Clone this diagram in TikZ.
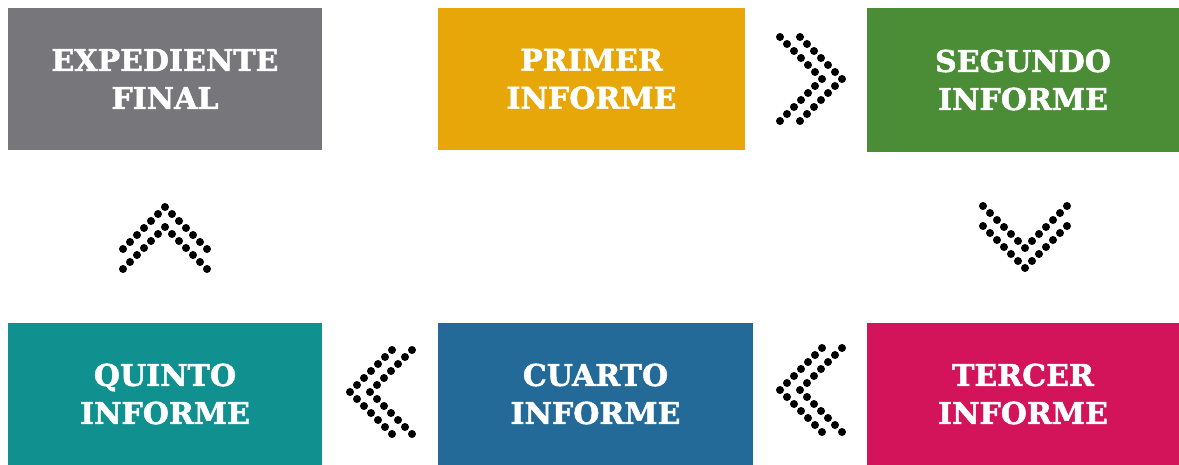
\documentclass[tikz,border=0pt]{standalone}
\usepackage{fontspec}
\setmainfont[BoldFeatures={FakeBold=1.6}]{DejaVu Serif}

\definecolor{expgray}{HTML}{77767B}
\definecolor{primyellow}{HTML}{E8A709}
\definecolor{seggreen}{HTML}{4B8D36}
\definecolor{tercmagenta}{HTML}{D3145A}
\definecolor{cuarblue}{HTML}{236A99}
\definecolor{quinteal}{HTML}{10918F}

\tikzset{
	stagebox/.style={minimum height=142, inner sep=0pt, align=center,
		text=white, font=\fontsize{30}{38}\selectfont\bfseries},
}

% two rows of dots forming a chevron: apex (#1,#2), step along (#3,#4), step back (#5,#6)
\newcommand{\dotchev}[6]{%
	\foreach \i in {-6,...,6}{
		\pgfmathsetmacro\a{abs(\i)}
		\fill ({#1+(#3)*\i+(#5)*\a},{#2+(#4)*\i+(#6)*\a}) circle[radius=4];
	}}

\begin{document}
\begin{tikzpicture}[x=1pt, y=-1pt]
	\useasboundingbox (0,0) rectangle (1179,465);
	% top row
	\node[stagebox, fill=expgray, minimum width=314] (final) at (165,79) {EXPEDIENTE\\FINAL};
	\node[stagebox, fill=primyellow, minimum width=307] (primer) at (591.5,79) {PRIMER\\INFORME};
	\node[stagebox, fill=seggreen, minimum width=312, minimum height=144] (segundo) at (1023,80) {SEGUNDO\\INFORME};
	% bottom row
	\node[stagebox, fill=quinteal, minimum width=314] (quinto) at (165,394) {QUINTO\\INFORME};
	\node[stagebox, fill=cuarblue, minimum width=315] (cuarto) at (595.5,394) {CUARTO\\INFORME};
	\node[stagebox, fill=tercmagenta, minimum width=312] (tercer) at (1023,394) {TERCER\\INFORME};
	% chevrons
	\foreach \ax in {822,842} \dotchev{\ax}{79}{0}{7}{-7}{0};
	\foreach \ay in {248,268} \dotchev{1025}{\ay}{7}{0}{0}{-7};
	\foreach \ax in {780,800} \dotchev{\ax}{390}{0}{7}{7}{0};
	\foreach \ax in {350,370} \dotchev{\ax}{392}{0}{7}{7}{0};
	\foreach \ay in {207,227} \dotchev{165}{\ay}{7}{0}{0}{7};
\end{tikzpicture}
\end{document}
